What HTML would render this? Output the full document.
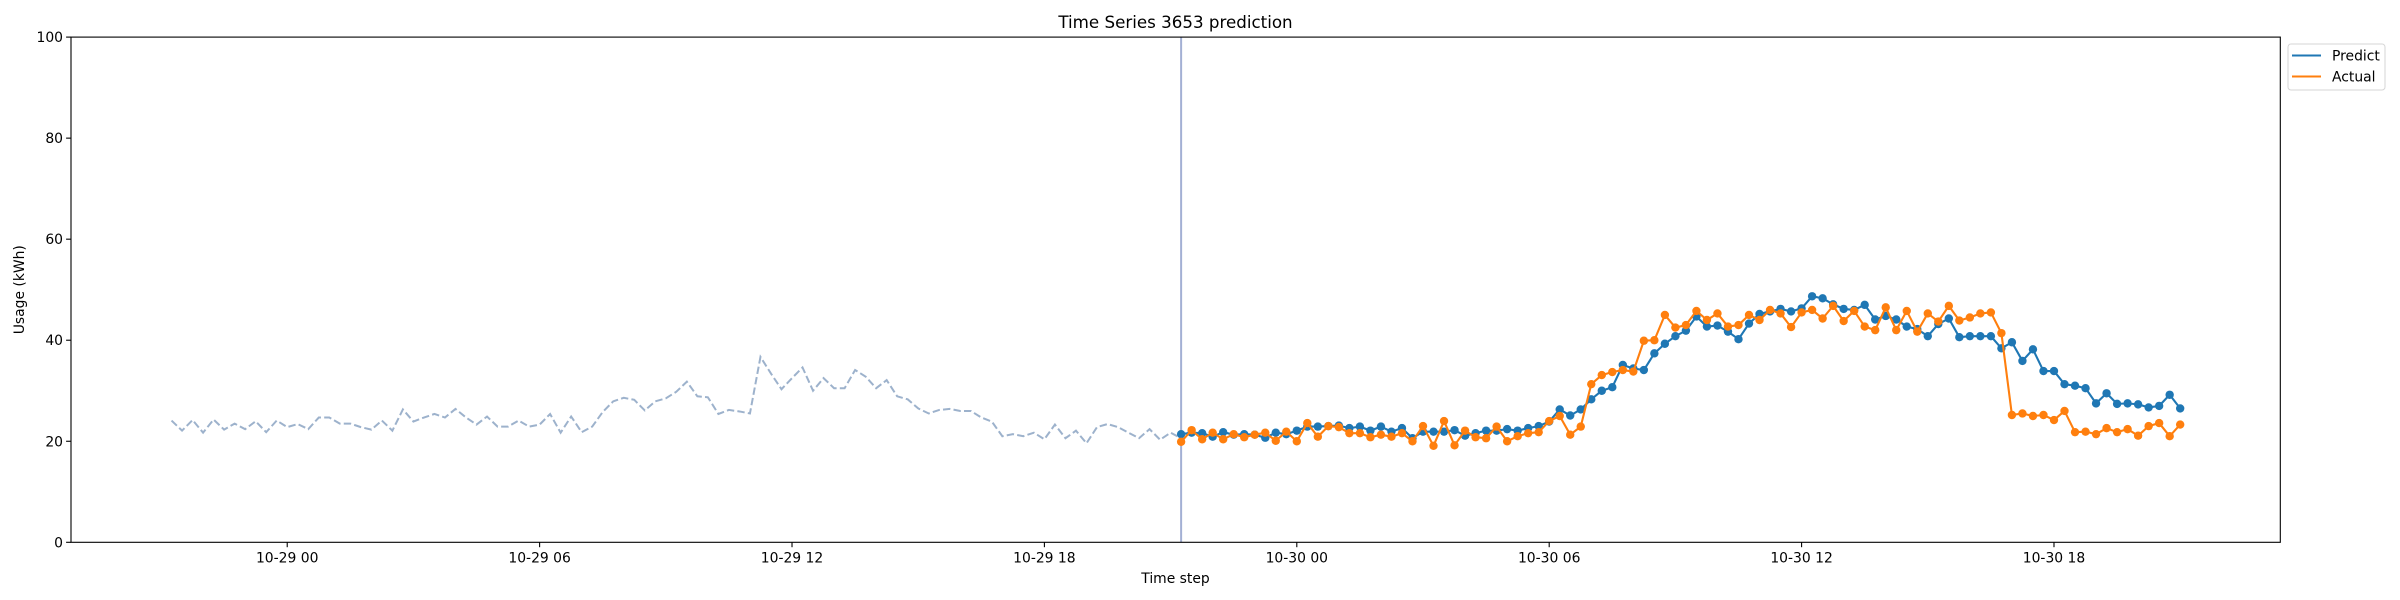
<!DOCTYPE html>
<html><head><meta charset="utf-8"><style>
html,body{margin:0;padding:0;background:#fff;}
svg{display:block;font-family:"DejaVu Sans","Liberation Sans",sans-serif;}
</style></head><body>
<svg id="chart" width="2400" height="600" viewBox="0 0 2400 600" xmlns="http://www.w3.org/2000/svg">
<rect width="2400" height="600" fill="#fff"/>
<g id="plot"></g>
<text x="1175.5" y="28" font-size="16.7" text-anchor="middle" fill="#000">Time Series 3653 prediction</text>
<text x="1175.5" y="583" font-size="13.9" text-anchor="middle" fill="#000">Time step</text>
<text x="0" y="0" font-size="13.9" text-anchor="middle" fill="#000" transform="translate(24,289.7) rotate(-90)">Usage (kWh)</text>
<g>
<rect x="2288" y="44" width="97" height="46" rx="3" fill="#fff" stroke="#d6d6d6" stroke-width="1"/>
<line x1="2292" y1="55.5" x2="2321" y2="55.5" stroke="#1f77b4" stroke-width="2.1"/>
<text x="2332" y="60.5" font-size="13.9" fill="#000">Predict</text>
<line x1="2292" y1="76.5" x2="2321" y2="76.5" stroke="#ff7f0e" stroke-width="2.1"/>
<text x="2332" y="81.5" font-size="13.9" fill="#000">Actual</text>
</g>
</svg>
<script>
// Data: 15-minute steps. History starts 10-28 21:15 (hour -2.75 relative to 10-29 00:00)
const historyStartHour = -2.75;
const historyValues = [24.1,22.1,24.2,21.7,24.3,22.3,23.5,22.4,23.95,21.8,24.1,22.8,23.4,22.4,24.7,24.7,23.5,23.5,22.8,22.3,24.1,22.1,26.3,23.9,24.7,25.4,24.7,26.4,24.7,23.3,24.9,22.9,22.9,24.1,22.9,23.3,25.4,21.7,24.9,21.8,22.9,25.8,27.9,28.6,28.2,26.1,27.9,28.5,29.8,31.8,28.9,28.7,25.4,26.2,25.9,25.5,36.7,33.4,30.3,32.5,34.6,30.0,32.5,30.5,30.5,34.1,32.8,30.5,32.1,28.9,28.3,26.5,25.5,26.2,26.4,26.0,26.0,24.7,23.9,21.0,21.4,21.0,21.7,20.4,23.3,20.6,22.1,19.6,22.8,23.4,22.8,21.7,20.6,22.4,20.3,21.7,20.6];
const forecastStartHour = 21.25;
const predictValues = [21.4,21.7,21.6,20.9,21.8,21.3,21.4,21.3,20.7,21.7,21.4,22.1,22.9,22.9,23.0,23.1,22.6,22.9,22.1,22.9,21.9,22.6,20.6,21.9,21.9,21.9,22.2,21.1,21.6,22.1,22.1,22.4,22.1,22.6,23.0,23.9,26.3,25.1,26.3,28.3,30.0,30.7,35.1,34.4,34.1,37.4,39.3,40.8,41.9,44.7,42.7,42.9,41.7,40.2,43.3,45.2,45.7,46.2,45.7,46.3,48.7,48.3,47.1,46.2,46.0,47.0,44.1,44.8,44.1,42.7,42.2,40.8,43.2,44.3,40.6,40.8,40.8,40.8,38.4,39.6,35.9,38.2,33.9,33.9,31.3,31.0,30.5,27.5,29.5,27.4,27.5,27.3,26.7,27.0,29.2,26.5];
const actualValues = [19.9,22.2,20.4,21.7,20.4,21.4,20.8,21.3,21.7,20.1,21.9,20.0,23.6,20.9,23.0,22.8,21.6,21.6,20.8,21.3,20.9,21.6,20.0,23.0,19.1,24.0,19.2,22.1,20.8,20.6,22.9,20.0,21.0,21.6,21.8,24.0,25.0,21.3,22.9,31.3,33.1,33.7,34.1,33.8,39.9,40.0,45.0,42.5,43.0,45.8,44.0,45.3,42.7,43.0,45.0,44.0,46.0,45.3,42.6,45.5,46.0,44.3,46.8,43.8,45.8,42.7,42.0,46.5,42.0,45.8,41.7,45.3,43.7,46.8,43.9,44.5,45.3,45.5,41.4,25.2,25.5,25.0,25.2,24.2,26.0,21.8,21.9,21.4,22.6,21.8,22.4,21.1,23.0,23.6,21.0,23.3];
const xTickHours = [0,6,12,18,24,30,36,42];
const xTickLabels = ["10-29 00","10-29 06","10-29 12","10-29 18","10-30 00","10-30 06","10-30 12","10-30 18"];
const yTicks = [0,20,40,60,80,100];
const splitHour = 21.25;

const L=71,R=2280.3,T=37.1,B=542.3;
const xMin=-5.14,xMax=47.38,yMin=0,yMax=100;
const sx=h=>L+(h-xMin)/(xMax-xMin)*(R-L);
const sy=v=>B-(v-yMin)/(yMax-yMin)*(B-T);
const NS="http://www.w3.org/2000/svg";
const plot=document.getElementById('plot');
function mk(tag,attrs,parent){const e=document.createElementNS(NS,tag);for(const k in attrs)e.setAttribute(k,attrs[k]);(parent||plot).appendChild(e);return e;}

// split vertical line
const vl=mk('line',{x1:sx(splitHour),x2:sx(splitHour),y1:T,y2:B,stroke:'#a3b0d4','stroke-width':2});



// history dashed
const hp=historyValues.map((v,i)=>sx(historyStartHour+i*0.25).toFixed(2)+','+sy(v).toFixed(2)).join(' ');
const hl=mk('polyline',{points:hp,fill:'none',stroke:'#9db2cc','stroke-width':2,'stroke-dasharray':'7.4 3.2'});



function series(vals,color,name){
  const g=mk('g',{});
  
  
  const pts=vals.map((v,i)=>sx(forecastStartHour+i*0.25).toFixed(2)+','+sy(v).toFixed(2)).join(' ');
  const pl=mk('polyline',{points:pts,fill:'none',stroke:color,'stroke-width':2.1,'stroke-linejoin':'round'},g);
  
  
  vals.forEach((v,i)=>{
    const c=mk('circle',{cx:sx(forecastStartHour+i*0.25),cy:sy(v),r:4.2,fill:color},g);
    
    
  });
}
series(predictValues,'#1f77b4','predict');
series(actualValues,'#ff7f0e','actual');

// axes frame
const fr=mk('rect',{x:L,y:T,width:R-L,height:B-T,fill:'none',stroke:'#000','stroke-width':1.1});



xTickHours.forEach((h,i)=>{
  const x=sx(h);
  const t=mk('line',{x1:x,x2:x,y1:B,y2:B+4.9,stroke:'#000','stroke-width':1.1});
  
  
  const tx=mk('text',{x:x,y:B+20,'font-size':13.9,'text-anchor':'middle',fill:'#000'});
  tx.textContent=xTickLabels[i];
  
  
});
yTicks.forEach(v=>{
  const y=sy(v);
  const t=mk('line',{x1:L-4.9,x2:L,y1:y,y2:y,stroke:'#000','stroke-width':1.1});
  
  
  const tx=mk('text',{x:L-8,y:y+5,'font-size':13.9,'text-anchor':'end',fill:'#000'});
  tx.textContent=String(v);
  
  
});
</script>
</body></html>
